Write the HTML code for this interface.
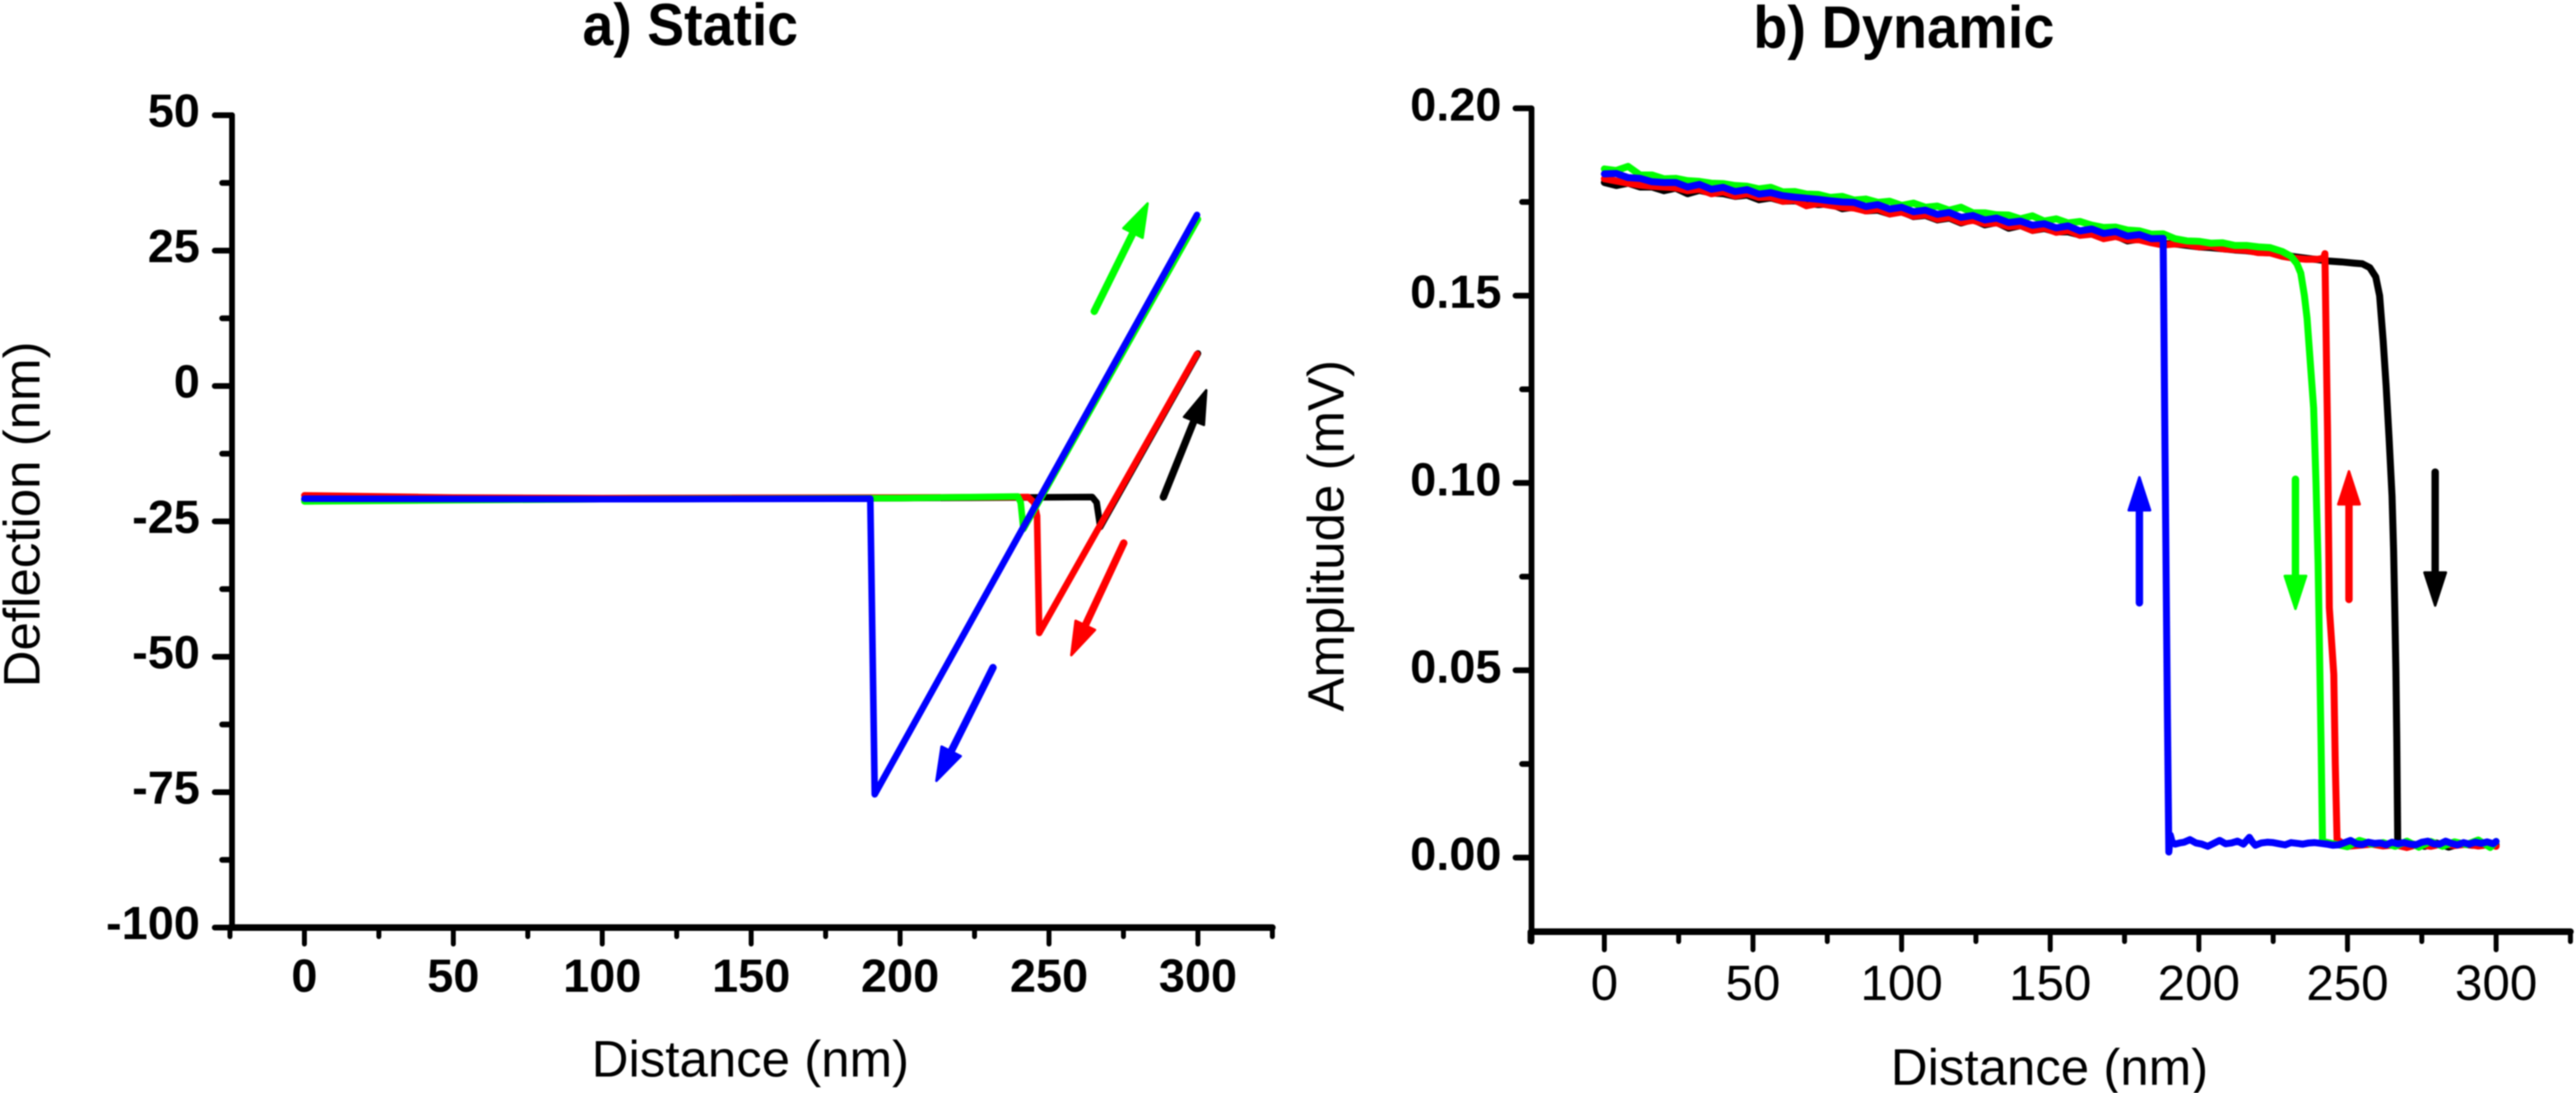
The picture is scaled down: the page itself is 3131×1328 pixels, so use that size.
<!DOCTYPE html>
<html lang="en">
<head>
<meta charset="utf-8">
<title>Static and dynamic force-distance curves</title>
<style>
html,body{margin:0;padding:0;background:#fff;width:3131px;height:1328px;overflow:hidden}
svg{display:block;filter:blur(0.8px)}
text{fill:#000;font-family:"Liberation Sans",sans-serif}
</style>
</head>
<body>
<svg id="figure" xmlns="http://www.w3.org/2000/svg" width="3131" height="1328" viewBox="0 0 3131 1328">
  <rect x="0" y="0" width="3131" height="1328" fill="#fff"/>
  <text x="839" y="55" text-anchor="middle" font-size="72" font-weight="700" textLength="262" lengthAdjust="spacingAndGlyphs">a) Static</text>
  <text x="2314" y="58" text-anchor="middle" font-size="72" font-weight="700" textLength="366" lengthAdjust="spacingAndGlyphs">b) Dynamic</text>
  <text x="912" y="1308" text-anchor="middle" font-size="62">Distance (nm)</text>
  <text x="2491" y="1318" text-anchor="middle" font-size="62">Distance (nm)</text>
  <text transform="translate(48 625) rotate(-90)" text-anchor="middle" font-size="62">Deflection (nm)</text>
  <text transform="translate(1633 651) rotate(-90)" text-anchor="middle" font-size="62">Amplitude (mV)</text>
  <g id="static-panel"></g>
  <g id="dynamic-panel"></g>
</svg>
<script>
/* ---------- shared axis data ---------- */
const xMajorTicks = [0, 50, 100, 150, 200, 250, 300];
const xMinorTicks = [-25, 25, 75, 125, 175, 225, 275, 325];
const staticYMajorTicks = [-100, -75, -50, -25, 0, 25, 50];
const staticYMinorTicks = [-87.5, -62.5, -37.5, -12.5, 12.5, 37.5];
const dynamicYMajorTicks = [0, 0.05, 0.10, 0.15, 0.20];
const dynamicYMinorTicks = [0.025, 0.075, 0.125, 0.175];
const dynamicYLabels = ['0.00', '0.05', '0.10', '0.15', '0.20'];

/* ---------- a) static curves ---------- */
const staticBlackX = [0, 100, 200, 264.5, 266, 267.2, 300];
const staticBlackY = [-21, -20.9, -20.7, -20.5, -21.5, -26, 6];
const staticRedX = [0, 50, 100, 200, 243, 245, 246, 246.7, 299.7];
const staticRedY = [-20.2, -20.6, -20.7, -20.6, -20.5, -21.5, -24, -45.6, 5.9];
const staticGreenX = [0, 50, 100, 200, 239.5, 240.5, 241.4, 300];
const staticGreenY = [-21.3, -21.1, -20.9, -20.7, -20.4, -21.5, -26.4, 30.8];
const staticBlueX = [0, 100, 190, 191.5, 299.7];
const staticBlueY = [-20.8, -20.9, -20.8, -75.4, 31.6];

const staticArrowColors = ['#00ff00', '#000000', '#ff0000', '#0000ff'];
const staticArrowNames = ['green', 'black', 'red', 'blue'];
const staticArrowTailX = [265.2, 288.4, 275.1, 231.2];
const staticArrowTailY = [13.8, -20.5, -29, -52];
const staticArrowTipX = [283.1, 302.8, 257.5, 212.2];
const staticArrowTipY = [33.7, -0.8, -49.7, -72.9];

/* ---------- b) dynamic curves ---------- */
const dynUpperX = [0,4,8,12,16,20,24,28,32,36,40,44,48,52,56,60,64,68,72,76,80,84,88,92,96,100,104,108,112,116,120,124,128,132,136,140,144,148,152,156,160,164,168,172,176,180,184,188];
const dynBlueUpper = [.1825,.1826,.1815,.1813,.1804,.1802,.1802,.1790,.1797,.1784,.1789,.1778,.1783,.1771,.1775,.1767,.1763,.1760,.1757,.1753,.1750,.1749,.1738,.1743,.1731,.1736,.1724,.1728,.1717,.1722,.1709,.1714,.1702,.1707,.1695,.1699,.1688,.1692,.1681,.1686,.1673,.1678,.1666,.1671,.1659,.1663,.1652,.1653];
const dynGreenUpper = [.1838,.1834,.1845,.1822,.1822,.1812,.1813,.1807,.1805,.1800,.1799,.1794,.1792,.1785,.1789,.1777,.1778,.1771,.1770,.1762,.1765,.1755,.1758,.1749,.1752,.1741,.1747,.1736,.1739,.1728,.1736,.1721,.1721,.1716,.1715,.1705,.1713,.1699,.1705,.1694,.1698,.1688,.1682,.1683,.1675,.1673,.1664,.1665];
const dynRedUpper = [.1812,.1806,.1800,.1795,.1792,.1790,.1788,.1780,.1784,.1772,.1777,.1766,.1772,.1762,.1763,.1752,.1755,.1740,.1746,.1741,.1736,.1734,.1726,.1731,.1718,.1723,.1712,.1716,.1704,.1709,.1696,.1701,.1692,.1694,.1684,.1687,.1674,.1681,.1669,.1674,.1661,.1664,.1652,.1658,.1649,.1649,.1641,.1635];
const dynBlackUpper = [.1802,.1794,.1800,.1790,.1790,.1780,.1787,.1772,.1781,.1774,.1772,.1765,.1768,.1756,.1761,.1752,.1753,.1746,.1743,.1745,.1732,.1736,.1726,.1728,.1718,.1724,.1711,.1714,.1702,.1707,.1694,.1703,.1689,.1695,.1680,.1687,.1674,.1679,.1670,.1670,.1662,.1666,.1654,.1660,.1646,.1651,.1644,.1639];

const dynBlackDropX = [192,196,200,204,208,212,216,220,224,228,232,236,240,244,248,252,255,257.5,259.5,260.8,262,263,264,265,265.5,265.9,266.3,266.6,266.9];
const dynBlackDropY = [.1638,.1634,.1630,.1628,.1625,.1622,.1620,.1616,.1614,.1611,.1604,.1600,.1596,.1592,.1590,.1587,.1585,.1575,.1550,.1500,.1380,.1260,.1120,.0965,.0820,.0667,.0500,.0310,.0048];
const dynRedDropX = [192,196,200,204,208,212,216,220,224,228,232,236,240,242,242.4,243.3,243.9,245.4,245.9,246.5];
const dynRedDropY = [.1638,.1637,.1630,.1632,.1625,.1623,.1621,.1615,.1614,.1605,.1600,.1597,.1597,.1600,.1612,.1140,.0667,.0489,.0252,.0048];
const dynGreenDropX = [192,196,200,204,208,212,216,220,224,228,231,233,234.3,235.5,236.4,237.5,238.6,239.4,240.1,240.6,241.1,241.6];
const dynGreenDropY = [.1652,.1646,.1645,.1640,.1641,.1634,.1634,.1630,.1628,.1618,.1605,.1585,.1560,.1500,.1440,.1320,.1200,.1000,.0786,.0550,.0310,.0043];
const dynBlueDropX = [188.6, 189.4, 189.9];
const dynBlueDropY = [.1100, .0400, .0015];

const dynLowerTailX = [250,254,258,262,266,270,274,278,282,286,290,294,298,300];
const dynBlackLowerX = [268,272,276,280,284,288,292,296,300];
const dynBlackLowerY = [.0032,.0036,.0030,.0039,.0028,.0037,.0033,.0038,.0034];
const dynRedLowerY = [.0030,.0033,.0036,.0031,.0034,.0027,.0036,.0030,.0037,.0032,.0036,.0031,.0035,.0030];
const dynGreenLowerY = [.0029,.0046,.0036,.0040,.0030,.0044,.0028,.0043,.0030,.0042,.0035,.0047,.0027,.0043];
const dynBlueLowerX = [190.4,191,192,193.5,195,197,199,201,203,205,207,209,211,213,215,217,218,219,221,223,225,227,229,231,233,235,237,239,241,243,245,247,249,251,253,255,257,259,261,263,265,267,269,271,273,275,277,279,281,283,285,287,289,291,293,295,297,299,300];
const dynBlueLowerY = [.0060,.0042,.0036,.0039,.0041,.0048,.0039,.0036,.0030,.0038,.0046,.0037,.0039,.0044,.0036,.0054,.0042,.0033,.0039,.0041,.0040,.0037,.0034,.0040,.0038,.0036,.0039,.0040,.0038,.0036,.0033,.0034,.0040,.0046,.0037,.0035,.0041,.0038,.0039,.0034,.0041,.0037,.0040,.0036,.0034,.0041,.0044,.0037,.0036,.0044,.0038,.0034,.0040,.0036,.0041,.0038,.0042,.0037,.0043];

const dynamicArrowColors = ['#0000ff', '#00ff00', '#ff0000', '#000000'];
const dynamicArrowNames = ['blue', 'green', 'red', 'black'];
const dynamicArrowX = [180, 232.5, 250.5, 279.5];
const dynamicArrowTailY = [.0680, .1010, .0689, .1029];
const dynamicArrowTipY = [.1015, .0664, .1031, .0673];

/* ---------- axis functions ---------- */
const SVG_NS = 'http://www.w3.org/2000/svg';
const sx = v => 370 + v * 3.62;
const sy = v => 469 - v * 6.58;
const dx = v => 1950 + v * 3.613;
const dy = v => 1042 - v * 4552;

function drawLine(parent, name, x1, y1, x2, y2, w) {
  const el = document.createElementNS(SVG_NS, 'line');
  
  
  el.setAttribute('x1', x1);
  el.setAttribute('y1', y1);
  el.setAttribute('x2', x2);
  el.setAttribute('y2', y2);
  el.setAttribute('stroke', '#000');
  el.setAttribute('stroke-width', w);
  el.setAttribute('stroke-linecap', 'round');
  parent.appendChild(el);
}

function drawText(parent, name, x, y, str, anchor, weight, size) {
  const el = document.createElementNS(SVG_NS, 'text');
  
  
  el.setAttribute('x', x);
  el.setAttribute('y', y);
  el.setAttribute('text-anchor', anchor);
  el.setAttribute('font-weight', weight);
  el.setAttribute('font-size', size);
  el.textContent = str;
  parent.appendChild(el);
}

function drawSeries(parent, name, color, xs, ys, fx, fy, w) {
  const el = document.createElementNS(SVG_NS, 'polyline');
  
  
  el.setAttribute('points', xs.map((x, i) => fx(x).toFixed(1) + ',' + fy(ys[i]).toFixed(1)).join(' '));
  el.setAttribute('fill', 'none');
  el.setAttribute('stroke', color);
  el.setAttribute('stroke-width', w);
  el.setAttribute('stroke-linejoin', 'round');
  el.setAttribute('stroke-linecap', 'round');
  parent.appendChild(el);
}

function drawArrow(parent, name, color, x1, y1, x2, y2) {
  const len = Math.hypot(x2 - x1, y2 - y1);
  const ux = (x2 - x1) / len;
  const uy = (y2 - y1) / len;
  const headLen = 40;
  const headHalf = 13;
  const bx = x2 - ux * headLen;
  const by = y2 - uy * headLen;
  const group = document.createElementNS(SVG_NS, 'g');
  
  
  const shaft = document.createElementNS(SVG_NS, 'line');
  
  
  shaft.setAttribute('x1', x1);
  shaft.setAttribute('y1', y1);
  shaft.setAttribute('x2', bx);
  shaft.setAttribute('y2', by);
  shaft.setAttribute('stroke', color);
  shaft.setAttribute('stroke-width', 9);
  shaft.setAttribute('stroke-linecap', 'round');
  group.appendChild(shaft);
  const head = document.createElementNS(SVG_NS, 'polygon');
  
  
  head.setAttribute('points', [
    x2 + ',' + y2,
    (bx - uy * headHalf) + ',' + (by + ux * headHalf),
    (bx + uy * headHalf) + ',' + (by - ux * headHalf)
  ].join(' '));
  head.setAttribute('fill', color);
  head.setAttribute('stroke', color);
  head.setAttribute('stroke-width', 3);
  head.setAttribute('stroke-linejoin', 'round');
  group.appendChild(head);
  parent.appendChild(group);
}

/* ---------- static panel ---------- */
const sp = document.getElementById('static-panel');
drawSeries(sp, 'static-curve-black', '#000000', staticBlackX, staticBlackY, sx, sy, 8);
drawSeries(sp, 'static-curve-red', '#ff0000', staticRedX, staticRedY, sx, sy, 8);
drawSeries(sp, 'static-curve-green', '#00ff00', staticGreenX, staticGreenY, sx, sy, 8);
drawSeries(sp, 'static-curve-blue', '#0000ff', staticBlueX, staticBlueY, sx, sy, 8);
staticArrowNames.forEach((n, i) => {
  drawArrow(sp, 'static-arrow-' + n, staticArrowColors[i], sx(staticArrowTailX[i]), sy(staticArrowTailY[i]), sx(staticArrowTipX[i]), sy(staticArrowTipY[i]));
});
drawLine(sp, 'static-y-axis-line', 282, sy(50), 282, sy(-100), 7);
drawLine(sp, 'static-x-axis-line', sx(-25), 1127, sx(325), 1127, 8);
staticYMajorTicks.forEach(v => {
  drawLine(sp, 'static-y-tick', 261, sy(v), 282, sy(v), 7);
  drawText(sp, 'static-y-tick-label', 243, sy(v) + 14, String(v), 'end', 700, 57);
});
staticYMinorTicks.forEach(v => {
  drawLine(sp, 'static-y-minor-tick', 270, sy(v), 282, sy(v), 7);
});
xMajorTicks.forEach(v => {
  drawLine(sp, 'static-x-tick', sx(v), 1127, sx(v), 1147, 6);
  drawText(sp, 'static-x-tick-label', sx(v), 1205, String(v), 'middle', 700, 57);
});
xMinorTicks.forEach(v => {
  drawLine(sp, 'static-x-minor-tick', sx(v), 1127, sx(v), 1138, 6);
});

/* ---------- dynamic panel ---------- */
const dp = document.getElementById('dynamic-panel');
drawSeries(dp, 'dynamic-curve-black', '#000000',
  dynUpperX.concat(dynBlackDropX, dynBlackLowerX),
  dynBlackUpper.concat(dynBlackDropY, dynBlackLowerY), dx, dy, 8.5);
drawSeries(dp, 'dynamic-curve-red', '#ff0000',
  dynUpperX.concat(dynRedDropX, dynLowerTailX),
  dynRedUpper.concat(dynRedDropY, dynRedLowerY), dx, dy, 8.5);
drawSeries(dp, 'dynamic-curve-green', '#00ff00',
  dynUpperX.concat(dynGreenDropX, dynLowerTailX),
  dynGreenUpper.concat(dynGreenDropY, dynGreenLowerY), dx, dy, 8.5);
drawSeries(dp, 'dynamic-curve-blue', '#0000ff',
  dynUpperX.concat(dynBlueDropX, dynBlueLowerX),
  dynBlueUpper.concat(dynBlueDropY, dynBlueLowerY), dx, dy, 8.5);
dynamicArrowNames.forEach((n, i) => {
  drawArrow(dp, 'dynamic-arrow-' + n, dynamicArrowColors[i], dx(dynamicArrowX[i]), dy(dynamicArrowTailY[i]), dx(dynamicArrowX[i]), dy(dynamicArrowTipY[i]));
});
drawLine(dp, 'dynamic-y-axis-line', 1861.5, dy(0.2), 1861.5, 1144, 7);
drawLine(dp, 'dynamic-x-axis-line', 1861.5, 1132, dx(325), 1132, 8);
dynamicYMajorTicks.forEach((v, i) => {
  drawLine(dp, 'dynamic-y-tick', 1842, dy(v), 1861, dy(v), 7);
  drawText(dp, 'dynamic-y-tick-label', 1825, dy(v) + 15, dynamicYLabels[i], 'end', 700, 57);
});
dynamicYMinorTicks.forEach(v => {
  drawLine(dp, 'dynamic-y-minor-tick', 1850, dy(v), 1861, dy(v), 7);
});
xMajorTicks.forEach(v => {
  drawLine(dp, 'dynamic-x-tick', dx(v), 1132, dx(v), 1154, 6);
  drawText(dp, 'dynamic-x-tick-label', dx(v), 1215, String(v), 'middle', 400, 60);
});
xMinorTicks.forEach(v => {
  drawLine(dp, 'dynamic-x-minor-tick', dx(v), 1132, dx(v), 1144, 6);
});
</script>
</body>
</html>
